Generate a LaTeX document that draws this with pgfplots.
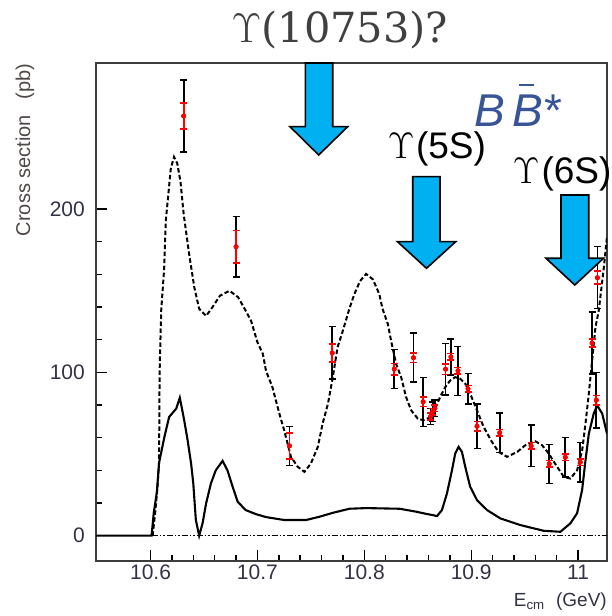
\RequirePackage{fix-cm}
\documentclass[border=0pt]{standalone}
\usepackage{fontspec}
\setmainfont{Liberation Sans}
\newfontfamily\titlefont{DejaVu Serif}
\usepackage{pgfplots}
\pgfplotsset{compat=1.18}
\usepackage{pgfplotstable}
\definecolor{arrowblue}{RGB}{0,176,240}
\definecolor{ticklab}{RGB}{50,50,70}
\definecolor{bbcol}{RGB}{55,85,150}
\definecolor{titlecol}{RGB}{64,64,64}
\definecolor{framecol}{RGB}{60,60,60}
\definecolor{ylabcol}{RGB}{80,70,70}

\pgfplotstableread{
E sig stat tot
10.631 257 8 22
10.680 177 10 18.5
10.730 55 8 12
10.770 112 5.5 16
10.828 102 3.6 12
10.846 109 3 15
10.855 82 3 15
10.862 73 2 5
10.864 76 2 6
10.866 78 2 5
10.876 102 3.3 15.7
10.881 109.5 2 11
10.8876 101 2 15
10.897 90 2 9.4
10.9054 67 3 13.7
10.9266 63 2 12.2
10.956 55 2 12.7
10.973 44 2 12
10.988 48 2 12
11.002 45 2 12
11.013 118 2.5 19
11.017 83 3 17
11.018 158 4 19
}\datatab

\pgfplotstableread{
E sig
10.602 0
10.6045 15
10.6065 30
10.608 45
10.6085 100
10.610 138
10.6128 164
10.6143 193
10.619 225
10.622 232
10.625 228
10.628 217
10.631 197
10.636 173
10.641 152
10.6455 139
10.652 134.6
10.658 140
10.665 147
10.674 150
10.682 146
10.688 139
10.694 131.7
10.700 118.5
10.705 111.5
10.708 101
10.714 91
10.7205 74.8
10.725 64.6
10.7314 48.3
10.7377 42.2
10.744 39.1
10.750 44.2
10.7565 54.4
10.761 68.7
10.766 80.9
10.7705 97
10.775 115.5
10.780 125.7
10.786 139
10.7907 148
10.796 156
10.8017 160.3
10.808 157
10.814 148
10.817 139
10.822 129.7
10.825 119.5
10.8298 105
10.8345 97
10.839 85
10.8438 76.8
10.850 71.7
10.855 70.7
10.860 72
10.8647 75.7
10.871 85
10.8757 91
10.8804 95.1
10.885 97.1
10.8897 96.1
10.8944 93.1
10.899 87
10.9054 76.8
10.9116 66.6
10.9194 57.4
10.9256 51.3
10.9335 48.3
10.943 51.3
10.9506 55.4
10.96 57.8
10.9663 55.4
10.9725 50.3
10.9803 42.2
10.9866 36
10.9928 35
10.999 40
11.0038 52.4
11.0069 68.7
11.01 87
11.0131 107.3
11.0162 127.7
11.0193 137.9
11.024 164
11.027 183
}\dashtab

\pgfplotstableread{
E sig
10.549 0
10.601 0
10.603 13.8
10.606 27
10.608 44.7
10.613 60.5
10.6174 72.7
10.624 77.8
10.6274 84.5
10.6315 70.7
10.6347 58.5
10.638 44
10.640 32
10.6424 9.6
10.6455 0
10.6487 7.6
10.652 19.8
10.6565 32
10.661 40
10.6674 45.8
10.672 40
10.6768 30
10.6815 20.8
10.689 15.7
10.6986 13.2
10.708 11.4
10.725 9.6
10.7455 9.6
10.758 11.6
10.7705 14
10.786 16.5
10.8017 16.9
10.833 16.5
10.8485 14.7
10.8554 13.7
10.864 12.6
10.868 12
10.8726 15.7
10.8773 25.9
10.882 40.1
10.885 50.3
10.8882 54.4
10.8913 51.3
10.8944 42.2
10.899 30
10.9054 21.8
10.9148 15.7
10.9272 10.6
10.946 6.5
10.9678 3
10.9834 2.4
10.9928 7.6
10.999 13.7
11.0037 27.9
11.0069 46.2
11.01 62.5
11.0146 74.8
11.0178 79.8
11.0225 74.8
11.027 62.5
}\solidtab

\begin{document}
\begin{tikzpicture}[x=1pt,y=1pt]
\begin{axis}[
  at={(96pt,55pt)}, anchor=south west,
  scale only axis, width=511pt, height=498pt,
  xmin=10.549, xmax=11.027, ymin=-15.5, ymax=289.5,
  axis line style={framecol, line width=1.6pt},
  tick pos=left, tick align=inside,
  major tick length=11pt, minor tick length=6pt,
  tick style={black, line width=1.4pt},
  xtick={10.6,10.7,10.8,10.9,11},
  xticklabels={10.6,10.7,10.8,10.9,11},
  ytick={0,100,200},
  yticklabels={0,100,200},
  minor x tick num=4, minor y tick num=4,
  ticklabel style={font=\fontsize{21}{24}\selectfont, text=ticklab, inner sep=0pt},
  xticklabel style={anchor=north, yshift=-4pt},
  yticklabel style={anchor=east, xshift=-11pt},
]
\addplot[black, line width=1.6pt, dash pattern=on 6pt off 2pt on 1.5pt off 2pt on 1.5pt off 2pt] coordinates {(10.601,0) (11.027,0)};
\addplot[black, line width=2.1pt] table[x=E, y=sig] {\solidtab};
\addplot[black, line width=2pt, dash pattern=on 4.5pt off 2.5pt] table[x=E, y=sig] {\dashtab};
\addplot[black, only marks, mark=none,
  error bars/.cd, y dir=both, y explicit,
  error bar style={black, line width=1.7pt, solid},
  error mark=-,
  error mark options={rotate=90, black, mark size=3.5pt, line width=1.5pt, solid}]
  table[x=E, y=sig, y error=tot] {\datatab};
\addplot[red, only marks, mark=*, mark size=2.3pt, mark options={fill=red, draw=red, solid},
  error bars/.cd, y dir=both, y explicit,
  error bar style={red, line width=1.7pt, solid},
  error mark=-,
  error mark options={rotate=90, red, mark size=3.5pt, line width=1.5pt, solid}]
  table[x=E, y=sig, y error=stat] {\datatab};
\end{axis}
% arrows
\filldraw[fill=arrowblue, draw=black, line width=1.6pt, line join=miter]
  (305.3,553) -- (332.7,553) -- (332.7,489.3) -- (347.7,489.3) -- (318.7,461) -- (290,489.3) -- (305.3,489.3) -- cycle;
\filldraw[fill=arrowblue, draw=black, line width=1.6pt, line join=miter]
  (412.7,439.3) -- (440,439.3) -- (440,374.3) -- (455.7,374.3) -- (426.5,347.7) -- (397.5,374.3) -- (412.7,374.3) -- cycle;
\filldraw[fill=arrowblue, draw=black, line width=1.6pt, line join=miter]
  (561,421) -- (588.7,421) -- (588.7,357.7) -- (603.5,357.7) -- (574.8,331) -- (546,357.7) -- (561,357.7) -- cycle;
% texts
\node[anchor=base, inner sep=0pt, text=titlecol, font=\titlefont\fontsize{41.5}{48}\selectfont] at (340,573) {$\Upsilon$(10753)?};
\node[anchor=base west, inner sep=0pt, font=\fontsize{37}{44}\selectfont] at (387.7,457.7) {$\Upsilon$\kern1.5pt(5S)};
\node[anchor=base west, inner sep=0pt, font=\fontsize{37}{44}\selectfont] at (512.7,432.7) {$\Upsilon$\kern2pt(6S)};
\node[anchor=base west, inner sep=0pt, text=bbcol, font=\fontsize{46}{50}\selectfont\itshape] at (474,489.3) {B};
\node[anchor=base west, inner sep=0pt, text=bbcol, font=\fontsize{46}{50}\selectfont\itshape] at (512,489.3) {B};
\node[anchor=base west, inner sep=0pt, text=bbcol, font=\fontsize{46}{50}\selectfont] at (544,489.3) {*};
\draw[bbcol, line width=2.5pt] (519,531) -- (534,531);
\node[rotate=90, anchor=center, inner sep=0pt, text=ylabcol, font=\fontsize{20}{22}\selectfont] at (25,466) {Cross section\hspace{0.5em} (pb)};
\node[anchor=base east, inner sep=0pt, text=ticklab, font=\fontsize{19}{22}\selectfont] at (607,9.3) {E\textsubscript{cm}\hspace{0.6em}(GeV)};
\pgfresetboundingbox
\useasboundingbox (0,0) rectangle (611,616);
\end{tikzpicture}
\end{document}
